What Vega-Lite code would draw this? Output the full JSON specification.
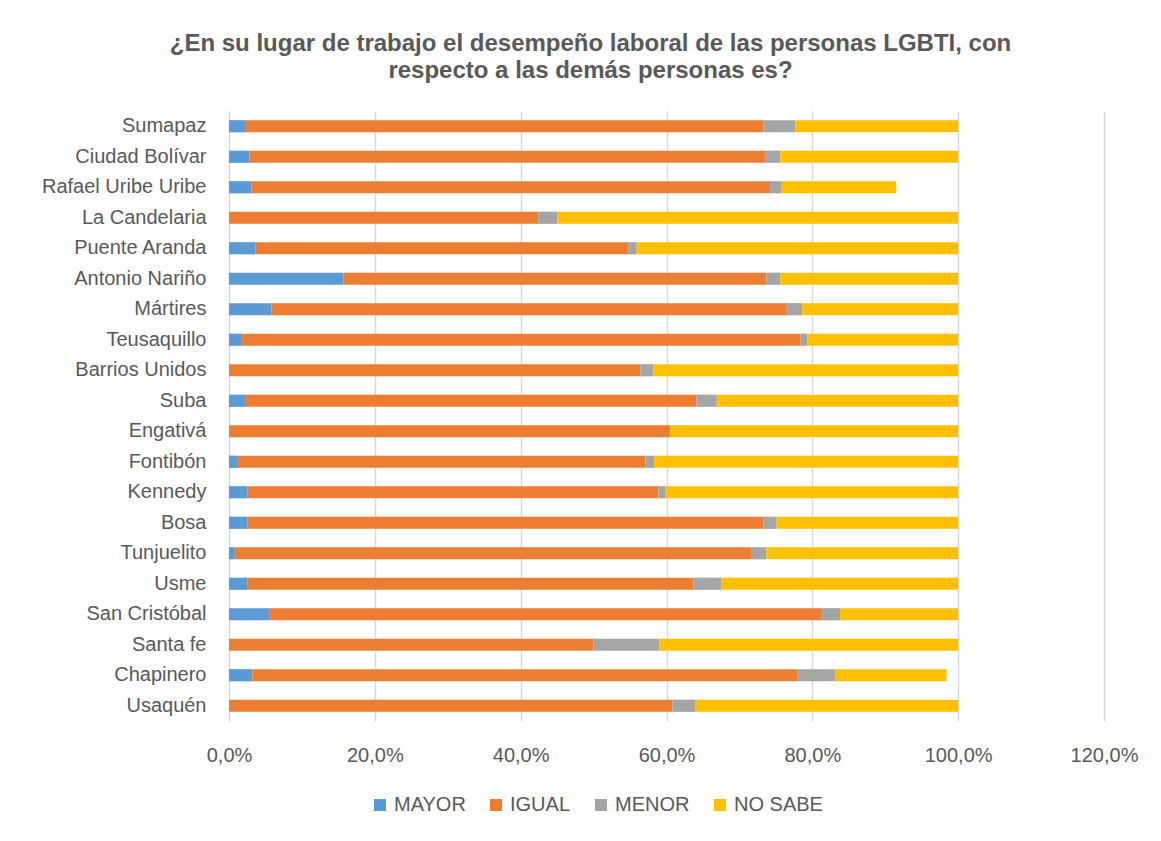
{
  "$schema": "https://vega.github.io/schema/vega-lite/v6.json",
  "autosize": {"type": "none"},
  "padding": {"left": 229, "top": 111, "right": 57, "bottom": 120},
  "width": 875,
  "height": 610,
  "background": "white",
  "title": {
    "text": ["¿En su lugar de trabajo el desempeño laboral de las personas LGBTI, con", "respecto a las demás personas es?"],
    "font": "Liberation Sans",
    "fontSize": 24,
    "fontWeight": "bold",
    "color": "#595959",
    "lineHeight": 27,
    "anchor": "middle",
    "dx": -76,
    "offset": 28
  },
  "data": {
    "values": [
      {"d": "Sumapaz", "c": "MAYOR", "o": 1, "v": 0.022},
      {"d": "Sumapaz", "c": "IGUAL", "o": 2, "v": 0.711},
      {"d": "Sumapaz", "c": "MENOR", "o": 3, "v": 0.044},
      {"d": "Sumapaz", "c": "NO SABE", "o": 4, "v": 0.223},
      {"d": "Ciudad Bolívar ", "c": "MAYOR", "o": 1, "v": 0.028},
      {"d": "Ciudad Bolívar ", "c": "IGUAL", "o": 2, "v": 0.707},
      {"d": "Ciudad Bolívar ", "c": "MENOR", "o": 3, "v": 0.021},
      {"d": "Ciudad Bolívar ", "c": "NO SABE", "o": 4, "v": 0.244},
      {"d": "Rafael Uribe Uribe", "c": "MAYOR", "o": 1, "v": 0.031},
      {"d": "Rafael Uribe Uribe", "c": "IGUAL", "o": 2, "v": 0.711},
      {"d": "Rafael Uribe Uribe", "c": "MENOR", "o": 3, "v": 0.016},
      {"d": "Rafael Uribe Uribe", "c": "NO SABE", "o": 4, "v": 0.157},
      {"d": "La Candelaria ", "c": "IGUAL", "o": 2, "v": 0.424},
      {"d": "La Candelaria ", "c": "MENOR", "o": 3, "v": 0.026},
      {"d": "La Candelaria ", "c": "NO SABE", "o": 4, "v": 0.550},
      {"d": "Puente Aranda ", "c": "MAYOR", "o": 1, "v": 0.036},
      {"d": "Puente Aranda ", "c": "IGUAL", "o": 2, "v": 0.512},
      {"d": "Puente Aranda ", "c": "MENOR", "o": 3, "v": 0.011},
      {"d": "Puente Aranda ", "c": "NO SABE", "o": 4, "v": 0.441},
      {"d": "Antonio Nariño", "c": "MAYOR", "o": 1, "v": 0.157},
      {"d": "Antonio Nariño", "c": "IGUAL", "o": 2, "v": 0.580},
      {"d": "Antonio Nariño", "c": "MENOR", "o": 3, "v": 0.019},
      {"d": "Antonio Nariño", "c": "NO SABE", "o": 4, "v": 0.244},
      {"d": "Mártires", "c": "MAYOR", "o": 1, "v": 0.058},
      {"d": "Mártires", "c": "IGUAL", "o": 2, "v": 0.707},
      {"d": "Mártires", "c": "MENOR", "o": 3, "v": 0.021},
      {"d": "Mártires", "c": "NO SABE", "o": 4, "v": 0.214},
      {"d": "Teusaquillo", "c": "MAYOR", "o": 1, "v": 0.018},
      {"d": "Teusaquillo", "c": "IGUAL", "o": 2, "v": 0.766},
      {"d": "Teusaquillo", "c": "MENOR", "o": 3, "v": 0.009},
      {"d": "Teusaquillo", "c": "NO SABE", "o": 4, "v": 0.207},
      {"d": "Barrios Unidos", "c": "IGUAL", "o": 2, "v": 0.564},
      {"d": "Barrios Unidos", "c": "MENOR", "o": 3, "v": 0.018},
      {"d": "Barrios Unidos", "c": "NO SABE", "o": 4, "v": 0.418},
      {"d": "Suba", "c": "MAYOR", "o": 1, "v": 0.022},
      {"d": "Suba", "c": "IGUAL", "o": 2, "v": 0.619},
      {"d": "Suba", "c": "MENOR", "o": 3, "v": 0.028},
      {"d": "Suba", "c": "NO SABE", "o": 4, "v": 0.331},
      {"d": "Engativá", "c": "IGUAL", "o": 2, "v": 0.605},
      {"d": "Engativá", "c": "NO SABE", "o": 4, "v": 0.395},
      {"d": "Fontibón ", "c": "MAYOR", "o": 1, "v": 0.011},
      {"d": "Fontibón ", "c": "IGUAL", "o": 2, "v": 0.560},
      {"d": "Fontibón ", "c": "MENOR", "o": 3, "v": 0.012},
      {"d": "Fontibón ", "c": "NO SABE", "o": 4, "v": 0.417},
      {"d": "Kennedy", "c": "MAYOR", "o": 1, "v": 0.025},
      {"d": "Kennedy", "c": "IGUAL", "o": 2, "v": 0.564},
      {"d": "Kennedy", "c": "MENOR", "o": 3, "v": 0.010},
      {"d": "Kennedy", "c": "NO SABE", "o": 4, "v": 0.401},
      {"d": "Bosa", "c": "MAYOR", "o": 1, "v": 0.025},
      {"d": "Bosa", "c": "IGUAL", "o": 2, "v": 0.708},
      {"d": "Bosa", "c": "MENOR", "o": 3, "v": 0.018},
      {"d": "Bosa", "c": "NO SABE", "o": 4, "v": 0.249},
      {"d": "Tunjuelito", "c": "MAYOR", "o": 1, "v": 0.008},
      {"d": "Tunjuelito", "c": "IGUAL", "o": 2, "v": 0.709},
      {"d": "Tunjuelito", "c": "MENOR", "o": 3, "v": 0.020},
      {"d": "Tunjuelito", "c": "NO SABE", "o": 4, "v": 0.263},
      {"d": "Usme", "c": "MAYOR", "o": 1, "v": 0.025},
      {"d": "Usme", "c": "IGUAL", "o": 2, "v": 0.612},
      {"d": "Usme", "c": "MENOR", "o": 3, "v": 0.038},
      {"d": "Usme", "c": "NO SABE", "o": 4, "v": 0.325},
      {"d": "San Cristóbal", "c": "MAYOR", "o": 1, "v": 0.055},
      {"d": "San Cristóbal", "c": "IGUAL", "o": 2, "v": 0.758},
      {"d": "San Cristóbal", "c": "MENOR", "o": 3, "v": 0.025},
      {"d": "San Cristóbal", "c": "NO SABE", "o": 4, "v": 0.162},
      {"d": "Santa fe", "c": "IGUAL", "o": 2, "v": 0.500},
      {"d": "Santa fe", "c": "MENOR", "o": 3, "v": 0.090},
      {"d": "Santa fe", "c": "NO SABE", "o": 4, "v": 0.410},
      {"d": "Chapinero", "c": "MAYOR", "o": 1, "v": 0.032},
      {"d": "Chapinero", "c": "IGUAL", "o": 2, "v": 0.748},
      {"d": "Chapinero", "c": "MENOR", "o": 3, "v": 0.051},
      {"d": "Chapinero", "c": "NO SABE", "o": 4, "v": 0.153},
      {"d": "Usaquén ", "c": "IGUAL", "o": 2, "v": 0.608},
      {"d": "Usaquén ", "c": "MENOR", "o": 3, "v": 0.032},
      {"d": "Usaquén ", "c": "NO SABE", "o": 4, "v": 0.360}
    ]
  },
  "mark": {"type": "bar"},
  "encoding": {
    "y": {
      "field": "d",
      "type": "nominal",
      "sort": ["Sumapaz", "Ciudad Bolívar ", "Rafael Uribe Uribe", "La Candelaria ", "Puente Aranda ", "Antonio Nariño", "Mártires", "Teusaquillo", "Barrios Unidos", "Suba", "Engativá", "Fontibón ", "Kennedy", "Bosa", "Tunjuelito", "Usme", "San Cristóbal", "Santa fe", "Chapinero", "Usaquén "],
      "scale": {"paddingInner": 0.6, "paddingOuter": 0.3},
      "axis": {
        "title": null,
        "domain": false,
        "ticks": false,
        "grid": false,
        "labelFont": "Liberation Sans",
        "labelFontSize": 20,
        "labelColor": "#595959",
        "labelPadding": 23
      }
    },
    "x": {
      "field": "v",
      "type": "quantitative",
      "stack": "zero",
      "scale": {"domain": [0, 1.2], "nice": false},
      "axis": {
        "title": null,
        "values": [0, 0.2, 0.4, 0.6, 0.8, 1.0, 1.2],
        "labelExpr": "replace(format(datum.value, '.1%'), '.', ',')",
        "domain": false,
        "ticks": false,
        "grid": true,
        "gridColor": "#d9d9d9",
        "gridWidth": 1.5,
        "labelFont": "Liberation Sans",
        "labelFontSize": 20,
        "labelColor": "#595959",
        "labelPadding": 24,
        "labelFlush": false
      }
    },
    "color": {
      "field": "c",
      "type": "nominal",
      "scale": {
        "domain": ["MAYOR", "IGUAL", "MENOR", "NO SABE"],
        "range": ["#5b9bd5", "#ed7d31", "#a5a5a5", "#ffc000"]
      },
      "legend": {
        "title": null,
        "orient": "none",
        "direction": "horizontal",
        "legendX": 141,
        "legendY": 684,
        "symbolType": "square",
        "symbolSize": 144,
        "symbolStrokeWidth": 0,
        "symbolOpacity": 1,
        "labelOffset": 4,
        "columnPadding": 20,
        "padding": 0,
        "labelFont": "Liberation Sans",
        "labelFontSize": 20,
        "labelColor": "#595959"
      }
    },
    "order": {"field": "o", "type": "quantitative"}
  },
  "config": {
    "view": {"stroke": null}
  }
}
